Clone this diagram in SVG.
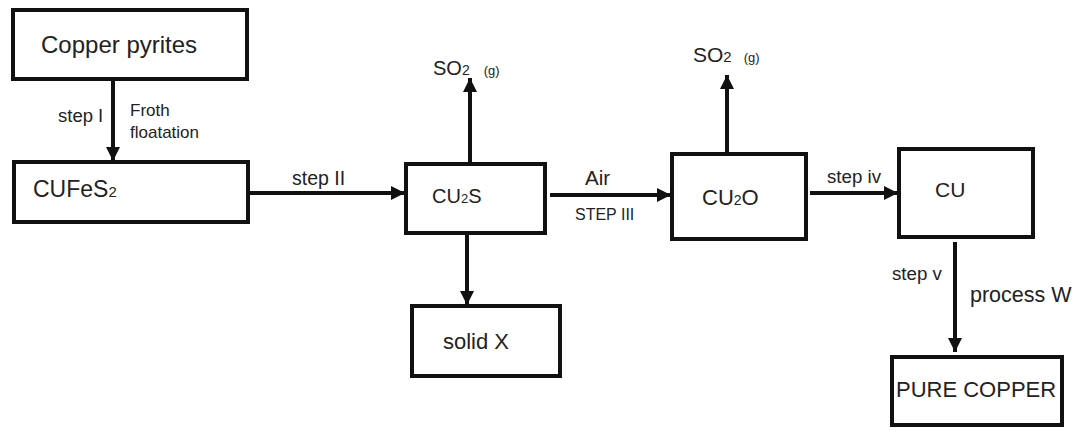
<svg xmlns="http://www.w3.org/2000/svg" width="1082" height="432" viewBox="0 0 1082 432">
<defs>
<marker id="ah" markerWidth="14" markerHeight="14" refX="14" refY="7" orient="auto" markerUnits="userSpaceOnUse">
<path d="M0,0 L14,7 L0,14 Z" fill="#111"/>
</marker>
<style>
.box{fill:#fff;stroke:#111;stroke-width:4}
.t{font-family:"Liberation Sans",Arial,sans-serif;fill:#222}
.line{stroke:#111;stroke-width:4;fill:none;marker-end:url(#ah)}
</style>
</defs>
<rect width="1082" height="432" fill="#fff"/>
<g id="connectors">
<line class="line" x1="113" y1="80" x2="113" y2="161"/>
<line class="line" x1="248" y1="193" x2="405" y2="193"/>
<line class="line" x1="470" y1="163" x2="470" y2="78"/>
<line class="line" x1="467" y1="234" x2="467" y2="305"/>
<line class="line" x1="550" y1="195" x2="671" y2="195"/>
<line class="line" x1="727" y1="153" x2="727" y2="75"/>
<line class="line" x1="810" y1="193" x2="898" y2="193"/>
<line class="line" x1="955" y1="242" x2="955" y2="352"/>
</g>
<g id="labels">
<text class="t" font-size="18.5" x="58" y="122">step I</text>
<text class="t" font-size="17" x="130" y="116">Froth</text>
<text class="t" font-size="17" x="130" y="138">floatation</text>
<text class="t" font-size="19.5" x="292" y="185">step II</text>
<text class="t" font-size="20" x="433" y="75">SO<tspan font-size="14">2</tspan><tspan font-size="13" dx="14">(g)</tspan></text>
<text class="t" font-size="20.5" x="585" y="185">Air</text>
<text class="t" font-size="16" x="575" y="220">STEP III</text>
<text class="t" font-size="21" x="693" y="62">SO<tspan font-size="15">2</tspan><tspan font-size="13" dx="12">(g)</tspan></text>
<text class="t" font-size="18.7" x="827" y="183">step iv</text>
<text class="t" font-size="18.7" x="892" y="280">step v</text>
<text class="t" font-size="21.5" x="970" y="302">process W</text>
</g>
<g id="copper-pyrites">
<rect class="box" x="13" y="10" width="234" height="69"/>
<text class="t" font-size="24" x="41" y="53">Copper pyrites</text>
</g>
<g id="cufes2">
<rect class="box" x="14" y="162" width="234" height="60"/>
<text class="t" font-size="23" x="33" y="197">CUFeS<tspan font-size="15">2</tspan></text>
</g>
<g id="cu2s">
<rect class="box" x="406" y="164" width="139" height="69"/>
<text class="t" font-size="20" x="432" y="203">CU<tspan font-size="13">2</tspan>S</text>
</g>
<g id="solid-x">
<rect class="box" x="412" y="306" width="148" height="70"/>
<text class="t" font-size="22" x="443" y="349">solid X</text>
</g>
<g id="cu2o">
<rect class="box" x="672" y="154" width="134" height="85"/>
<text class="t" font-size="22" x="702" y="205">CU<tspan font-size="14">2</tspan>O</text>
</g>
<g id="cu">
<rect class="box" x="899" y="149" width="134" height="88"/>
<text class="t" font-size="21" x="935" y="197">CU</text>
</g>
<g id="pure-copper">
<rect class="box" x="892" y="357" width="170" height="68"/>
<text class="t" font-size="22" x="896" y="397">PURE COPPER</text>
</g>
</svg>
